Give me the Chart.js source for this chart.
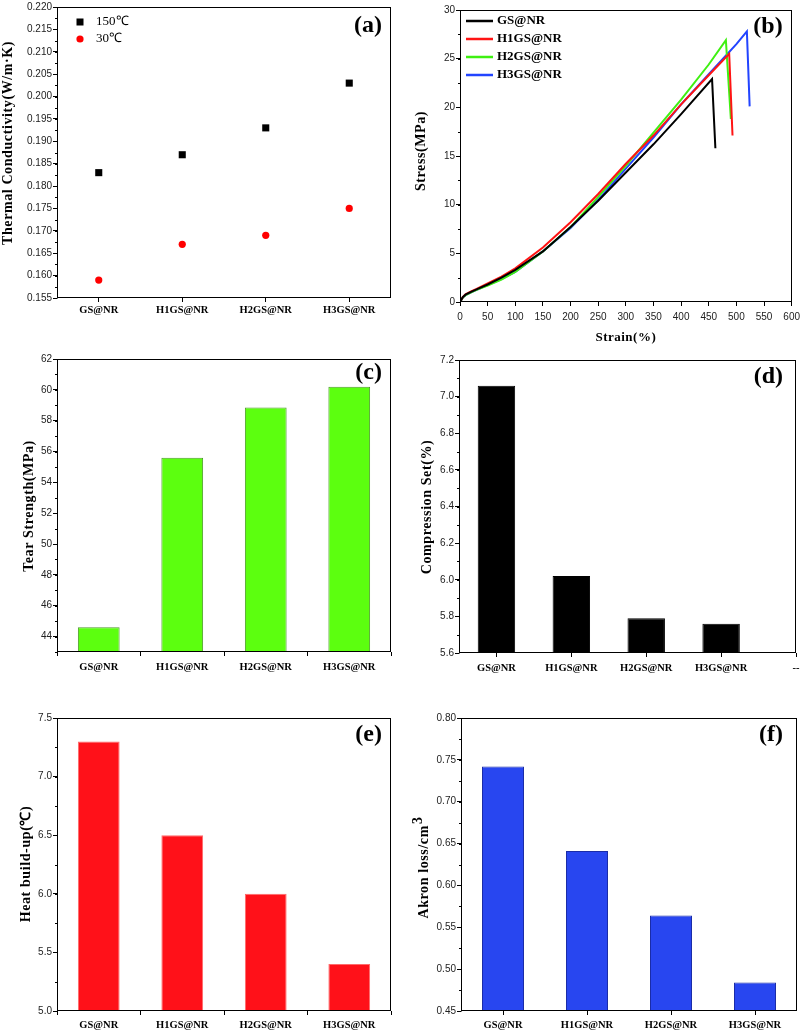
<!DOCTYPE html>
<html>
<head>
<meta charset="utf-8">
<script src="https://cdn.jsdelivr.net/npm/chart.js@4.4.1/dist/chart.umd.min.js"></script>
<style>
  html, body { margin: 0; padding: 0; background: #fff; }
  #wrap { position: relative; width: 805px; height: 1033px; overflow: hidden; }
  #wrap canvas { position: absolute; }
</style>
</head>
<body>
<div id="wrap">
  <canvas id="chartA"></canvas>
  <canvas id="chartB"></canvas>
  <canvas id="chartC"></canvas>
  <canvas id="chartD"></canvas>
  <canvas id="chartE"></canvas>
  <canvas id="chartF"></canvas>
</div>
<script>
// ---- data ----
const categories = ['GS@NR', 'H1GS@NR', 'H2GS@NR', 'H3GS@NR'];

// (a) thermal conductivity
const conductivity150 = [0.183, 0.187, 0.193, 0.203];
const conductivity30 = [0.159, 0.167, 0.169, 0.175];

// (b) stress-strain curves
const strainGS = [0, 5, 10, 20, 30, 50, 75, 100, 150, 200, 250, 300, 350, 400, 456, 462];
const stressGS = [0, 0.5, 0.75, 1.05, 1.3, 1.8, 2.5, 3.3, 5.2, 7.7, 10.4, 13.3, 16.2, 19.3, 22.9, 15.8];
const strainH1 = [0, 5, 10, 20, 30, 50, 75, 100, 150, 200, 250, 300, 350, 400, 450, 487, 493];
const stressH1 = [0, 0.5, 0.8, 1.1, 1.35, 1.9, 2.6, 3.45, 5.6, 8.2, 11.1, 14.2, 17.1, 20.3, 23.3, 25.5, 17.1];
const strainH2 = [0, 5, 10, 20, 30, 50, 75, 100, 150, 200, 250, 300, 350, 400, 450, 481, 490];
const stressH2 = [0, 0.45, 0.7, 1.0, 1.25, 1.7, 2.3, 3.1, 5.2, 7.7, 10.8, 14.0, 17.4, 20.8, 24.4, 26.9, 18.8];
const strainH3 = [0, 5, 10, 20, 30, 50, 75, 100, 150, 200, 250, 300, 350, 400, 450, 500, 519, 524];
const stressH3 = [0, 0.45, 0.7, 1.0, 1.25, 1.75, 2.35, 3.1, 5.2, 7.6, 10.5, 13.7, 16.9, 20.3, 23.4, 26.5, 27.8, 20.1];

// (c) tear strength
const tearStrength = [44.6, 55.6, 58.85, 60.2];

// (d) compression set (axis has an extra empty slot labelled "--")
const compressionCats = ['GS@NR', 'H1GS@NR', 'H2GS@NR', 'H3GS@NR', '--'];
const compressionSet = [7.06, 6.02, 5.79, 5.76];

// (e) heat build-up
const heatBuildUp = [7.3, 6.5, 6.0, 5.4];

// (f) akron loss
const akronLoss = [0.742, 0.641, 0.564, 0.484];

// ---- common stuff ----
const SERIF = '"Liberation Serif", "Times New Roman", serif';
const SANS = '"Liberation Sans", Arial, sans-serif';

Chart.defaults.animation = false;
Chart.defaults.responsive = false;
Chart.defaults.font.family = SANS;
Chart.defaults.plugins.legend.display = false;
Chart.defaults.plugins.tooltip.enabled = false;

// frame, minor ticks, panel letter, axis titles and in-plot legends
const panelDeco = {
    id: 'panelDeco',
    afterDraw(chart, args, o) {
        const ctx = chart.ctx;
        const a = chart.chartArea;
        ctx.save();
        ctx.strokeStyle = '#000';
        ctx.lineWidth = 1;
        const l = Math.round(a.left) + 0.5, t = Math.round(a.top) + 0.5;
        const r = Math.round(a.right) - 0.5, b = Math.round(a.bottom) - 0.5;
        ctx.strokeRect(l, t, r - l, b - t);

        // minor ticks
        ['x', 'y'].forEach(function (k) {
            const step = o.minor && o.minor[k];
            if (!step) return;
            const s = chart.scales[k];
            const n = Math.round((s.max - s.min) / step);
            for (let i = 0; i <= n; i++) {
                const p = Math.round(s.getPixelForValue(s.min + i * step)) + 0.5;
                ctx.beginPath();
                if (k === 'y') { ctx.moveTo(l, p); ctx.lineTo(l - 2.5, p); }
                else { ctx.moveTo(p, b); ctx.lineTo(p, b + 2.5); }
                ctx.stroke();
            }
        });

        // panel letter
        ctx.fillStyle = '#000';
        ctx.font = 'bold 24px ' + SERIF;
        ctx.textAlign = 'right';
        ctx.textBaseline = 'middle';
        ctx.fillText(o.letter, a.right - o.letterDx, a.top + o.letterDy);

        // y title (rotated)
        const yt = chart.options.scales.y.title;
        ctx.save();
        ctx.translate(o.yTitleX, o.yTitleY);
        ctx.rotate(-Math.PI / 2);
        ctx.font = 'bold 14px ' + SERIF;
        ctx.letterSpacing = '0.6px';
        ctx.textAlign = 'left';
        ctx.textBaseline = 'middle';
        const mainW = ctx.measureText(yt.text).width;
        let supW = 0;
        if (o.yTitleSup) supW = ctx.measureText(o.yTitleSup).width;
        const start = -(mainW + supW) / 2;
        ctx.fillText(yt.text, start, 0);
        if (o.yTitleSup) ctx.fillText(o.yTitleSup, start + mainW + 1, -6);
        ctx.restore();

        // x title
        const xt = chart.options.scales.x.title;
        if (o.xTitleY) {
            ctx.font = 'bold 13px ' + SERIF;
            ctx.letterSpacing = '0.5px';
            ctx.textAlign = 'center';
            ctx.fillText(xt.text, (a.left + a.right) / 2, o.xTitleY);
        }
        ctx.letterSpacing = '0px';

        // legend inside plot
        if (o.legend) {
            const lg = o.legend;
            ctx.font = lg.font;
            ctx.textAlign = 'left';
            ctx.textBaseline = 'middle';
            chart.data.datasets.forEach(function (ds, i) {
                const y = lg.y + i * lg.dy;
                if (lg.kind === 'line') {
                    ctx.strokeStyle = ds.borderColor;
                    ctx.lineWidth = 2.5;
                    ctx.beginPath();
                    ctx.moveTo(lg.x1, y);
                    ctx.lineTo(lg.x2, y);
                    ctx.stroke();
                } else {
                    ctx.fillStyle = ds.backgroundColor;
                    if (ds.pointStyle === 'rect') {
                        ctx.fillRect(lg.x1 - 3.5, y - 3.5, 7, 7);
                    } else {
                        ctx.beginPath();
                        ctx.arc(lg.x1, y, 3.6, 0, Math.PI * 2);
                        ctx.fill();
                    }
                }
                ctx.fillStyle = '#000';
                ctx.fillText(ds.label, lg.tx, y);
            });
        }
        ctx.restore();
    }
};
Chart.register(panelDeco);

const CAT_FONT = { family: SERIF, size: 10.5, weight: 'bold' };

function yAxis(min, max, step, digits, title) {
    return {
        min: min, max: max,
        ticks: {
            stepSize: step, includeBounds: false,
            callback: function (v) { return Number(v).toFixed(digits); },
            font: { family: SANS, size: 10 }, color: '#222', padding: 1
        },
        grid: { drawOnChartArea: false, tickLength: 4, color: '#000' },
        border: { display: false },
        title: { display: false, text: title }
    };
}

function catAxis(tickOffset, pad) {
    return {
        grid: { offset: tickOffset, drawOnChartArea: false, tickLength: 4, color: '#000' },
        border: { display: false },
        ticks: { font: CAT_FONT, color: '#000', padding: pad, maxRotation: 0, autoSkip: false }
    };
}

// box = canvas rectangle on page, area = plot rectangle on page
function makePanel(id, box, area, config) {
    const cv = document.getElementById(id);
    cv.width = box.w;
    cv.height = box.h;
    cv.style.left = box.x + 'px';
    cv.style.top = box.y + 'px';
    config.options.layout = {
        padding: { top: area.t - box.y, right: box.x + box.w - area.r, left: 0, bottom: 0 }
    };
    config.options.scales.x.afterFit = function (s) { s.height = box.y + box.h - area.b; };
    config.options.scales.y.afterFit = function (s) { s.width = area.l - box.x; };
    return new Chart(cv, config);
}

function barPanel(id, box, area, data, color, border, yOpts, deco, tickOffset, pad) {
    return makePanel(id, box, area, {
        type: 'bar',
        data: {
            labels: categories,
            datasets: [{
                data: data, backgroundColor: color, borderColor: border, borderWidth: 1,
                barPercentage: 0.5, categoryPercentage: 1
            }]
        },
        options: {
            scales: { x: catAxis(tickOffset, pad), y: yOpts },
            plugins: { panelDeco: deco }
        }
    });
}

function pairs(xs, ys) {
    return xs.map(function (x, i) { return { x: x, y: ys[i] }; });
}

// (a) Thermal conductivity
const chartAx = catAxis(false, 2);
chartAx.offset = true;
makePanel('chartA', { x: 0, y: 0, w: 400, h: 335 }, { l: 57, t: 6, r: 391, b: 298 }, {
    type: 'line',
    data: {
        labels: categories,
        datasets: [
            { label: '150℃', data: conductivity150, showLine: false, pointStyle: 'rect', pointRadius: 5,
              backgroundColor: '#000', borderColor: '#000', borderWidth: 0 },
            { label: '30℃', data: conductivity30, showLine: false, pointStyle: 'circle', pointRadius: 3.6,
              backgroundColor: '#ff0000', borderColor: '#ff0000', borderWidth: 0 }
        ]
    },
    options: {
        scales: {
            x: chartAx,
            y: yAxis(0.155, 0.22, 0.005, 3, 'Thermal Conductivity(W/m·K)')
        },
        plugins: {
            panelDeco: {
                letter: '(a)', letterDx: 9, letterDy: 19, yTitleX: 8, yTitleY: 143,
                minor: { y: 0.0025 },
                legend: { kind: 'point', x1: 80, tx: 96, y: 22, dy: 17, font: '13px ' + SERIF }
            }
        }
    }
});

// (b) Stress-strain
makePanel('chartB', { x: 400, y: 0, w: 405, h: 350 }, { l: 460, t: 10, r: 796, b: 302 }, {
    type: 'line',
    data: {
        datasets: [
            { label: 'GS@NR', data: pairs(strainGS, stressGS), borderColor: '#000000' },
            { label: 'H1GS@NR', data: pairs(strainH1, stressH1), borderColor: '#ff1414' },
            { label: 'H2GS@NR', data: pairs(strainH2, stressH2), borderColor: '#3ff012' },
            { label: 'H3GS@NR', data: pairs(strainH3, stressH3), borderColor: '#2244ff' }
        ]
    },
    options: {
        elements: { point: { radius: 0 }, line: { borderWidth: 2, tension: 0 } },
        scales: {
            x: {
                type: 'linear', min: 0, max: 600,
                ticks: { stepSize: 50, font: { family: SANS, size: 10 }, color: '#222', padding: 5, maxRotation: 0 },
                grid: { drawOnChartArea: false, tickLength: 4, color: '#000' },
                border: { display: false },
                title: { display: false, text: 'Strain(%)' }
            },
            y: yAxis(0, 30, 5, 0, 'Stress(MPa)')
        },
        plugins: {
            panelDeco: {
                letter: '(b)', letterDx: 9, letterDy: 17, yTitleX: 21, yTitleY: 151,
                xTitleY: 338, minor: { y: 2.5 },
                legend: { kind: 'line', x1: 66, x2: 93, tx: 97, y: 21, dy: 18, font: 'bold 13px ' + SERIF }
            }
        }
    }
});

// (c) Tear strength
barPanel('chartC', { x: 0, y: 340, w: 400, h: 340 }, { l: 57, t: 359, r: 391, b: 652 },
    tearStrength, '#5cff0f', '#4c9a2a', yAxis(43, 62, 2, 0, 'Tear Strength(MPa)'),
    { letter: '(c)', letterDx: 9, letterDy: 14, yTitleX: 29, yTitleY: 166, minor: { y: 1 } }, true, 5);

// (d) Compression set, linear x so the "--" slot sits on the right edge
makePanel('chartD', { x: 400, y: 350, w: 405, h: 330 }, { l: 459, t: 360, r: 796, b: 653 }, {
    type: 'bar',
    data: {
        datasets: [{
            data: compressionSet.map(function (v, i) { return { x: i + 1, y: v }; }),
            backgroundColor: '#000', borderColor: '#000', borderWidth: 1,
            barPercentage: 0.5, categoryPercentage: 1
        }]
    },
    options: {
        scales: {
            x: {
                type: 'linear', min: 0.5, max: 5, offset: false,
                ticks: {
                    stepSize: 1, includeBounds: false,
                    callback: function (v) { return compressionCats[v - 1]; },
                    font: CAT_FONT, color: '#000', padding: 5, maxRotation: 0
                },
                grid: { offset: false, drawOnChartArea: false, tickLength: 4, color: '#000' },
                border: { display: false }
            },
            y: yAxis(5.6, 7.2, 0.2, 1, 'Compression Set(%)')
        },
        plugins: {
            panelDeco: { letter: '(d)', letterDx: 13, letterDy: 17, yTitleX: 27, yTitleY: 157, minor: { y: 0.1 } }
        }
    }
});

// (e) Heat build-up
barPanel('chartE', { x: 0, y: 680, w: 400, h: 353 }, { l: 57, t: 718, r: 391, b: 1011 },
    heatBuildUp, '#ff1119', '#ff6a6a', yAxis(5.0, 7.5, 0.5, 1, 'Heat build-up(℃)'),
    { letter: '(e)', letterDx: 9, letterDy: 17, yTitleX: 26, yTitleY: 184, minor: { y: 0.25 } }, true, 4);

// (f) Akron loss
barPanel('chartF', { x: 400, y: 680, w: 405, h: 353 }, { l: 461, t: 718, r: 797, b: 1011 },
    akronLoss, '#2846f0', '#1a2ca8', yAxis(0.45, 0.8, 0.05, 2, 'Akron loss/cm'),
    { letter: '(f)', letterDx: 14, letterDy: 17, yTitleX: 24, yTitleY: 188, yTitleSup: '3', minor: { y: 0.025 } }, false, 4);
</script>
</body>
</html>
